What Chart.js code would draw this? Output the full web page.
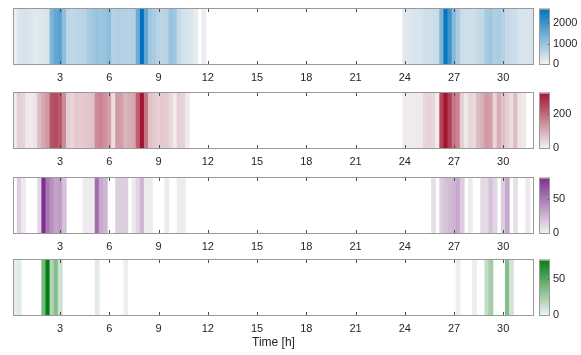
<!DOCTYPE html>
<html>
<head>
<meta charset="utf-8">
<script src="https://cdn.jsdelivr.net/npm/chart.js@4/dist/chart.umd.min.js"></script>
<style>
body { margin: 0; background: #fff; }
#fig { position: relative; width: 581px; height: 355px; overflow: hidden; }
.cell { position: absolute; }
</style>
</head>
<body>
<div id="fig"></div>
<script>
// 15 min bins, 0.25 h .. 31.75 h (bin centres)
const binWidth = 0.25;
const xTicks = [3, 6, 9, 12, 15, 18, 21, 24, 27, 30];

// values per bin, null = empty bin
const blueVals = [
  60, 250, 300, 300, 250, 200, 220, 250, 300, 1300, 1600, 1700, 1100, 600, 550, 600,
  600, 650, 800, 900, 1000, 950, 1000, 1100, 700, 750, 700, 700, 650, 700, 1500, 2700,
  1600, 900, 800, 650, 600, 650, 1000, 900, 500, 350, 300, 280, 150, null, 100, null,
  null, null, null, null, null, null, null, null, null, null, null, null, null, null, null, null,
  null, null, null, null, null, null, null, null, null, null, null, null, null, null, null, null,
  null, null, null, null, null, null, null, null, null, null, null, null, null, null, null, 200,
  220, 250, 280, 300, 380, 400, 420, 450, 1300, 2600, 2000, 1200, 800, 450, 400, 380,
  400, 500, 550, 850, 900, 750, 800, 700, 500, 450, 420, 320, 300, 280, 300
];
const redVals = [
  10, 50, 45, 15, 10, 20, 80, 110, 130, 230, 240, 220, 150, 50, 40, 60,
  55, 60, 65, 70, 150, 160, 140, 120, 30, 130, 120, 90, 100, 110, 210, 320,
  180, 70, 60, 50, 60, 55, 40, 10, 50, 45, 10, null, null, null, null, null,
  null, null, null, null, null, null, null, null, null, null, null, null, null, null, null, null,
  null, null, null, null, null, null, null, null, null, null, null, null, null, null, null, null,
  null, null, null, null, null, null, null, null, null, null, null, null, null, null, null, 8,
  8, 10, 12, 12, 40, 45, 40, 10, 250, 320, 260, 180, 160, 50, 15, 40,
  35, 80, 100, 130, 120, 40, 100, 70, 50, 30, 80, 20, 15, null, null
];
const purpleVals = [
  null, 15, 4, null, null, null, 12, 80, 50, 40, 32, 35, 20, null, null, null,
  null, 3, 3, 3, 55, 30, 25, null, null, 15, 15, 15, null, 3, 12, 25,
  3, 3, null, null, null, 3, null, null, 3, 3, null, null, null, null, null, null,
  null, null, null, null, null, null, null, null, null, null, null, null, null, null, null, null,
  null, null, null, null, null, null, null, null, null, null, null, null, null, null, null, null,
  null, null, null, null, null, null, null, null, null, null, null, null, null, null, null, null,
  null, null, null, null, null, null, 8, null, 15, 20, 22, 25, 30, 15, null, 3,
  null, null, 10, 10, 20, 12, null, 15, 30, null, 8, null, null, 4, null
];
const greenVals = [
  3, 5, null, null, null, null, null, 40, 77, 20, 35, 12, null, null, null, null,
  null, null, null, null, 5, null, null, null, null, null, null, 2, null, null, null, null,
  null, null, null, null, null, null, null, null, null, null, null, null, null, null, null, null,
  null, null, null, null, null, null, null, null, null, null, null, null, null, null, null, null,
  null, null, null, null, null, null, null, null, null, null, null, null, null, null, null, null,
  null, null, null, null, null, null, null, null, null, null, null, null, null, null, null, null,
  null, null, null, null, null, null, null, null, null, null, null, null, 2, null, null, null,
  2, null, null, 15, 25, null, null, null, 35, 10, null, null, null, null, null
];

// colour bar ranges and ticks
const blueMax = 2700, redMax = 320, purpleMax = 80, greenMax = 77;
const blueTicks = [0, 1000, 2000];
const redTicks = [0, 200];
const purpleTicks = [0, 50];
const greenTicks = [0, 50];

const fontFam = "'Liberation Sans', Arial, Helvetica, sans-serif";
Chart.defaults.font.family = fontFam;
Chart.defaults.color = '#262626';

const low = [242, 242, 242];

function shade(rgb, v, vmax) {
  let t = Math.max(0, Math.min(1, v / vmax));
  let c = low.map((l, k) => Math.round(l + (rgb[k] - l) * t));
  return 'rgb(' + c.join(',') + ')';
}

const fig = document.getElementById('fig');
function addCanvas(left, top, w, h) {
  let d = document.createElement('div');
  d.className = 'cell';
  d.style.left = left + 'px';
  d.style.top = top + 'px';
  d.style.width = w + 'px';
  d.style.height = h + 'px';
  let c = document.createElement('canvas');
  c.width = w; c.height = h;
  c.style.width = w + 'px'; c.style.height = h + 'px';
  d.appendChild(c);
  fig.appendChild(d);
  return c;
}

// box + inward tick marks like the original
const heatFrame = {
  id: 'heatFrame',
  afterDatasetsDraw(chart) {
    const { ctx, chartArea: a, scales: { x } } = chart;
    ctx.save();
    ctx.strokeStyle = '#4d4d4d';
    ctx.lineWidth = 1;
    x.ticks.forEach(t => {
      let px = Math.round(x.getPixelForValue(t.value)) + 0.5;
      ctx.beginPath();
      ctx.moveTo(px, a.bottom); ctx.lineTo(px, a.bottom - 4);
      ctx.moveTo(px, a.top); ctx.lineTo(px, a.top + 4);
      ctx.stroke();
    });
    ctx.strokeStyle = '#999';
    ctx.strokeRect(Math.round(a.left) + 0.5, Math.round(a.top) + 0.5,
      Math.round(a.width) - 1, Math.round(a.height) - 1);
    ctx.restore();
  }
};

const barFrame = {
  id: 'barFrame',
  afterDatasetsDraw(chart) {
    const { ctx, chartArea: a, scales: { y } } = chart;
    ctx.save();
    ctx.strokeStyle = '#4d4d4d';
    y.ticks.forEach(t => {
      let py = Math.round(y.getPixelForValue(t.value)) + 0.5;
      ctx.beginPath();
      ctx.moveTo(a.right, py); ctx.lineTo(a.right - 2, py);
      ctx.stroke();
    });
    ctx.strokeStyle = '#999';
    ctx.strokeRect(Math.round(a.left) + 0.5, Math.round(a.top) + 0.5,
      Math.round(a.width) - 1, Math.round(a.height) - 1);
    ctx.restore();
  }
};

const panels = [
  { vals: blueVals, rgb: [0, 114, 189], vmax: blueMax, ticks: blueTicks, top: 8 },
  { vals: redVals, rgb: [162, 20, 47], vmax: redMax, ticks: redTicks, top: 92 },
  { vals: purpleVals, rgb: [126, 47, 142], vmax: purpleMax, ticks: purpleTicks, top: 177 },
  { vals: greenVals, rgb: [0, 128, 20], vmax: greenMax, ticks: greenTicks, top: 259 }
];
const plotH = 57;
const cbPad = 9;

panels.forEach((p, n) => {
  const last = n === panels.length - 1;
  const axisH = last ? 37 : 22;
  const cv = addCanvas(0, p.top - 1, 536, plotH + 1 + axisH);
  const pts = p.vals.map((v, i) => ({ x: (i + 1) * binWidth, y: 1 }));
  const cols = p.vals.map(v => v == null ? 'rgba(0,0,0,0)' : shade(p.rgb, v, p.vmax));

  new Chart(cv, {
    type: 'bar',
    data: {
      datasets: [{
        data: pts,
        backgroundColor: cols,
        borderWidth: 0,
        barPercentage: 1,
        categoryPercentage: 1
      }]
    },
    options: {
      animation: false,
      responsive: false,
      events: [],
      layout: { padding: { left: 13, right: 2, top: 1, bottom: 0 } },
      plugins: { legend: { display: false }, tooltip: { enabled: false } },
      scales: {
        x: {
          type: 'linear',
          min: binWidth / 2,
          max: p.vals.length * binWidth + binWidth / 2,
          offset: false,
          afterBuildTicks: s => { s.ticks = xTicks.map(v => ({ value: v })); },
          afterFit: s => { s.height = axisH; },
          grid: { display: false, drawTicks: false },
          border: { display: false },
          ticks: { padding: 6, maxRotation: 0, font: { size: 11 }, color: '#262626' },
          title: {
            display: last,
            text: 'Time [h]',
            color: '#262626',
            font: { size: 12 },
            padding: { top: 2, bottom: 3 }
          }
        },
        y: { display: false, min: 0, max: 1 }
      }
    },
    plugins: [heatFrame]
  });

  // colour bar
  const cb = addCanvas(535, p.top - cbPad, 46, plotH + 2 * cbPad);
  new Chart(cb, {
    type: 'bar',
    data: {
      labels: [''],
      datasets: [{
        data: [[0, p.vmax]],
        borderWidth: 0,
        barPercentage: 1,
        categoryPercentage: 1,
        backgroundColor: ctx => {
          const a = ctx.chart.chartArea;
          if (!a) return 'rgba(0,0,0,0)';
          const g = ctx.chart.ctx.createLinearGradient(0, a.bottom, 0, a.top);
          g.addColorStop(0, 'rgb(' + low.join(',') + ')');
          g.addColorStop(1, 'rgb(' + p.rgb.join(',') + ')');
          return g;
        }
      }]
    },
    options: {
      animation: false,
      responsive: false,
      events: [],
      layout: { padding: { left: 4, right: 0, top: cbPad, bottom: cbPad } },
      plugins: { legend: { display: false }, tooltip: { enabled: false } },
      scales: {
        x: { display: false },
        y: {
          position: 'right',
          min: 0,
          max: p.vmax,
          afterBuildTicks: s => { s.ticks = p.ticks.map(v => ({ value: v })); },
          afterFit: s => { s.width = 31; },
          grid: { display: false, drawTicks: false },
          border: { display: false },
          ticks: { padding: 3, font: { size: 11 }, color: '#262626', callback: v => String(v) }
        }
      }
    },
    plugins: [barFrame]
  });
});
</script>
</body>
</html>
